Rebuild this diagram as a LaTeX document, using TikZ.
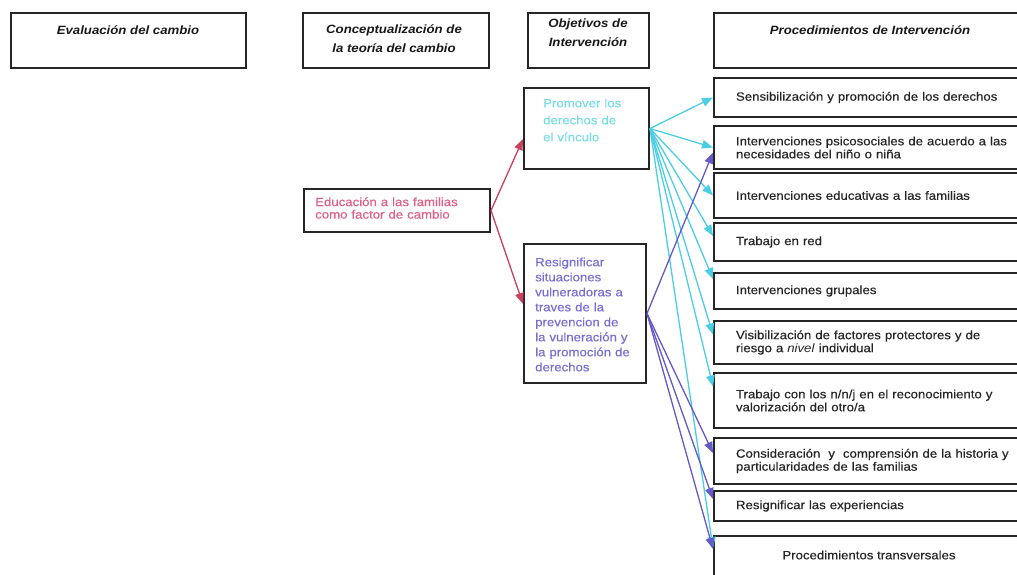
\documentclass[tikz,border=0pt]{standalone}
\usepackage{fontspec}
\setmainfont[FakeStretch=1.1, UprightFeatures={FakeBold=0.4}]{Liberation Sans}
\usetikzlibrary{arrows.meta}
\definecolor{cyanarr}{RGB}{75,205,228}
\definecolor{purparr}{RGB}{100,90,200}
\definecolor{redarr}{RGB}{200,65,95}
\definecolor{cyantxt}{RGB}{120,222,228}
\definecolor{purptxt}{RGB}{120,110,210}
\definecolor{pinktxt}{RGB}{222,95,135}
\begin{document}
\begin{tikzpicture}[x=1pt,y=-1pt,
  box/.style={draw=black!85, line width=2pt, rectangle, inner sep=0pt, anchor=north west},
  hbox/.style={box, minimum height=55pt},
  hdrtext/.style={font=\fontsize{12}{19}\selectfont\bfseries\itshape, align=center, inner sep=0pt, text=black!90},
  pbox/.style={box, text width=300pt, inner xsep=22pt, align=left, font=\fontsize{12}{13}\selectfont, text=black!85},
  objtext/.style={inner sep=0pt, anchor=west, align=left, text width=170pt},
  arr/.style={line width=1.3pt, -{Triangle[length=11pt,width=8.5pt]}},
  carr/.style={arr, draw=cyanarr, fill=cyanarr},
  parr/.style={arr, draw=purparr, fill=purparr},
  rarr/.style={arr, draw=redarr, fill=redarr}
]
\useasboundingbox (0,0) rectangle (1017,575);
\clip (0,0) rectangle (1017,575);

% header boxes
\node[hbox, minimum width=235pt] (h1) at (10,12) {};
\node[hdrtext] (h1t) at (128,30) {Evaluación del cambio};
\node[hbox, minimum width=186pt] (h2) at (302,12) {};
\node[hdrtext] (h2t) at (394,39) {Conceptualización de\\la teoría del cambio};
\node[hbox, minimum width=121pt] (h3) at (527,12) {};
\node[hdrtext] (h3t) at (588,32.5) {Objetivos de\\Intervención};
\node[hbox, minimum width=330pt] (h4) at (713,12) {};
\node[hdrtext] (h4t) at (870,30) {Procedimientos de Intervención};

% education box
\node[box, minimum width=186pt, minimum height=43pt] (edu) at (303,188) {};
\node[objtext, text=pinktxt, font=\fontsize{12}{12.5}\selectfont] (edut) at (315,208) {Educación a las familias\\como factor de cambio};

% objective boxes
\node[box, minimum width=125pt, minimum height=81pt] (o1) at (523,87) {};
\node[objtext, text=cyantxt, font=\fontsize{12}{17}\selectfont] (o1t) at (543,120) {Promover los\\derechos de\\el vínculo};
\node[box, minimum width=122pt, minimum height=139pt] (o2) at (523,243) {};
\node[objtext, text=purptxt, font=\fontsize{12}{15}\selectfont] (o2t) at (535,314.5) {Resignificar\\situaciones\\vulneradoras a\\traves de la\\prevencion de\\la vulneración y\\la promoción de\\derechos};

% procedure boxes
\node[pbox, minimum height=39pt] (p1) at (713,77) {Sensibilización y promoción de los derechos};
\node[pbox, minimum height=43pt] (p2) at (713,125) {Intervenciones psicosociales de acuerdo a las\\necesidades del niño o niña};
\node[pbox, minimum height=45pt] (p3) at (713,172) {Intervenciones educativas a las familias};
\node[pbox, minimum height=38pt] (p4) at (713,222) {Trabajo en red};
\node[pbox, minimum height=36pt] (p5) at (713,272) {Intervenciones grupales};
\node[pbox, minimum height=43pt] (p6) at (713,320) {Visibilización de factores protectores y de\\riesgo a \textit{nivel} individual};
\node[pbox, minimum height=55pt] (p7) at (713,372) {Trabajo con los n/n/j en el reconocimiento y\\valorización del otro/a};
\node[pbox, minimum height=46pt] (p8) at (713,437) {Consideración\ \ y\ \ comprensión de la historia y\\particularidades de las familias};
\node[pbox, minimum height=30pt] (p9) at (713,490) {Resignificar las experiencias};
\node[pbox, minimum height=50pt] (p10) at (713,535) {};
\node[inner sep=0pt, font=\fontsize{12}{13}\selectfont, text=black!85] (p10t) at (869,555) {Procedimientos transversales};

% red arrows
\draw[rarr] (edu.east) -- ([yshift=-10.5pt]o1.west);
\draw[rarr] (edu.east) -- ([yshift=9.5pt]o2.west);

% cyan arrows
\draw[carr] (o1.east) -- (p1.west);
\draw[carr] (o1.east) -- (p2.west);
\draw[carr] (o1.east) -- (p3.west);
\draw[carr] (o1.east) -- ([yshift=6pt]p4.west);
\draw[carr] (o1.east) -- ([yshift=12pt]p5.west);
\draw[carr] (o1.east) -- ([yshift=8pt]p6.west);
\draw[carr] (o1.east) -- ([yshift=14pt]p7.west);
\draw[carr] (o1.east) -- ([yshift=-13pt]p10.north west);

% purple arrows
\draw[parr] (o2.east) -- ([yshift=-5pt]p2.west);
\draw[parr] (o2.east) -- ([yshift=8pt]p8.west);
\draw[parr] (o2.east) -- ([yshift=7pt]p9.west);
\draw[parr] (o2.east) -- ([yshift=-14pt]p10.north west);
\end{tikzpicture}
\end{document}
